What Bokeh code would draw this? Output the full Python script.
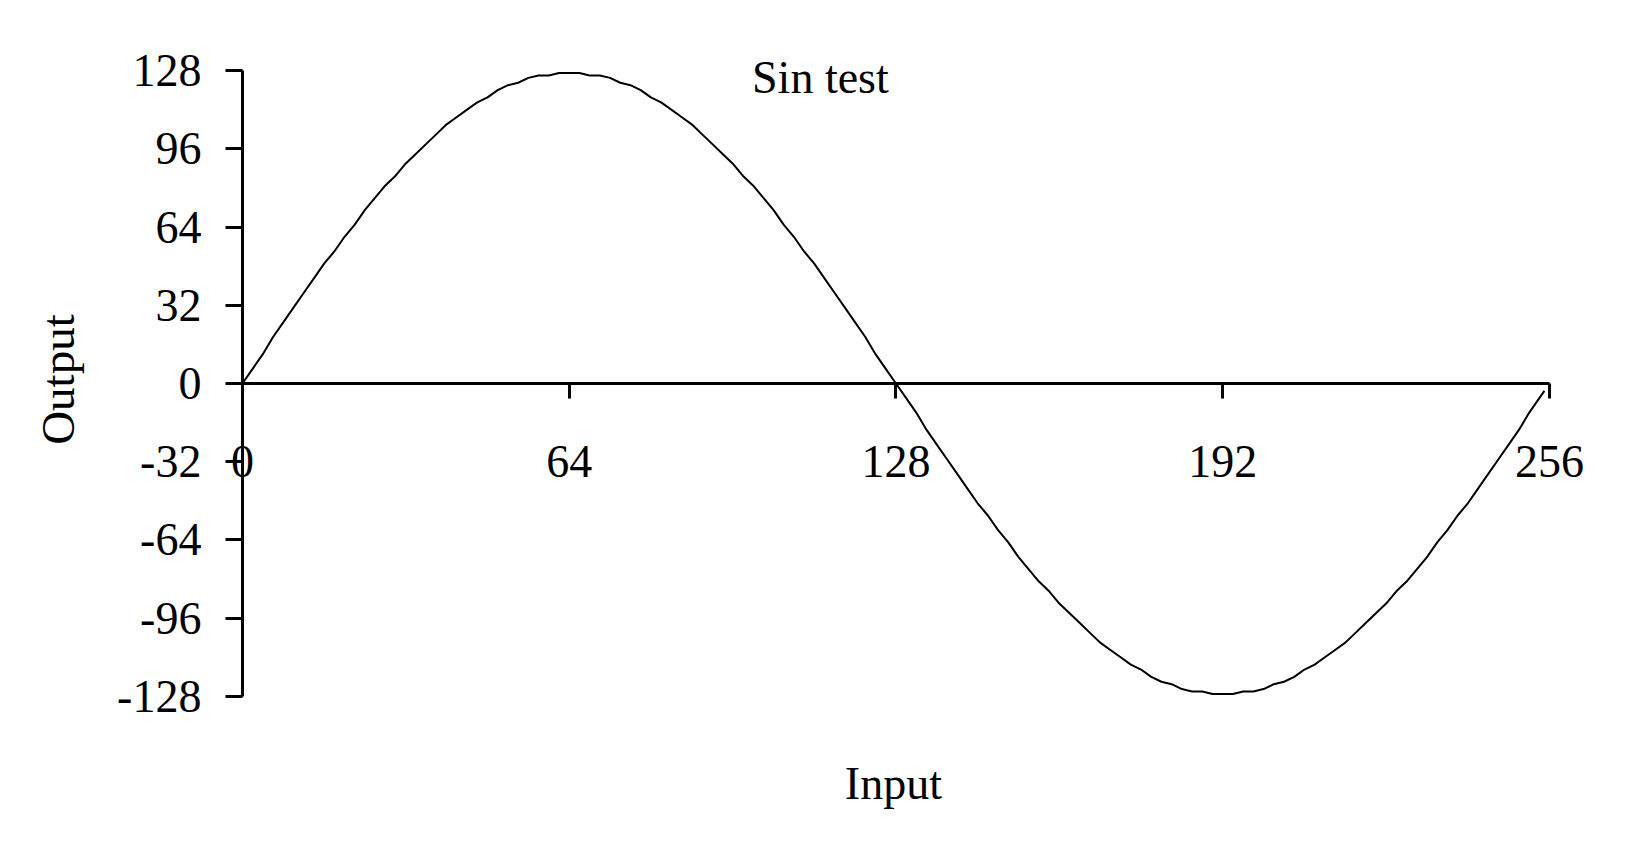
import math
from bokeh.plotting import figure
from bokeh.models import LinearAxis, FixedTicker, Range1d, Label, ColumnDataSource
from bokeh.embed import file_html
from bokeh.resources import INLINE

# ---- data ----
inputs = list(range(0, 256, 2)) + [255]
outputs = [0, 6, 12, 19, 25, 31, 37, 43, 49, 54, 60, 65, 71, 76, 81, 85, 90, 94, 98, 102,
           106, 109, 112, 115, 117, 120, 122, 123, 125, 126, 126, 127, 127,
           127, 126, 126, 125, 123, 122, 120, 117, 115, 112, 109, 106, 102, 98, 94, 90,
           85, 81, 76, 71, 65, 60, 54, 49, 43, 37, 31, 25, 19, 12, 6, 0,
           -6, -12, -19, -25, -31, -37, -43, -49, -54, -60, -65, -71, -76, -81, -85, -90,
           -94, -98, -102, -106, -109, -112, -115, -117, -120, -122, -123, -125, -126, -126, -127, -127,
           -127, -126, -126, -125, -123, -122, -120, -117, -115, -112, -109, -106, -102, -98, -94, -90,
           -85, -81, -76, -71, -65, -60, -54, -49, -43, -37, -31, -25, -19, -12, -6,
           -3]
x_ticks = [0, 64, 128, 192, 256]
y_ticks = [-128, -96, -64, -32, 0, 32, 64, 96, 128]
title_text = "Sin test"
x_label = "Input"
y_label = "Output"

FONT = "Liberation Serif"
FS = "46px"

p = figure(width=1625, height=831, output_backend="svg", toolbar_location=None,
           x_range=Range1d(-46.4, 269.9), y_range=Range1d(-181.2, 154.6),
           x_axis_type=None, y_axis_type=None,
           min_border_left=5, min_border_right=5, min_border_top=5, min_border_bottom=5)
p.outline_line_color = None
p.background_fill_color = "white"
p.border_fill_color = "white"
p.xgrid.visible = False
p.ygrid.visible = False

src = ColumnDataSource(data=dict(x=inputs, y=outputs))
p.line("x", "y", source=src, line_color="black", line_width=2)

# y axis at x = 0
yax = LinearAxis(ticker=FixedTicker(ticks=y_ticks), fixed_location=0, bounds=(-128, 128))
yax.major_label_overrides = {t: str(t) for t in y_ticks}
yax.axis_line_width = 3
yax.axis_line_color = "black"
yax.major_tick_line_width = 3
yax.major_tick_line_color = "black"
yax.major_tick_out = 17
yax.major_tick_in = 0
yax.minor_tick_line_color = None
yax.major_label_standoff = 24
yax.major_label_text_font = FONT
yax.major_label_text_font_size = FS
yax.major_label_text_color = "black"
p.add_layout(yax, "left")

# x axis crossing at y = 0
xax = LinearAxis(ticker=FixedTicker(ticks=x_ticks), fixed_location=0, bounds=(0, 256))
xax.major_label_overrides = {t: str(t) for t in x_ticks}
xax.axis_line_width = 3
xax.axis_line_color = "black"
xax.major_tick_line_width = 3
xax.major_tick_line_color = "black"
xax.major_tick_out = 15
xax.major_tick_in = 0
xax.minor_tick_line_color = None
xax.major_label_standoff = 48
xax.major_label_text_font = FONT
xax.major_label_text_font_size = FS
xax.major_label_text_color = "black"
p.add_layout(xax, "below")

title = Label(x=113.2, y=125.3, text=title_text, text_align="center",
              text_baseline="alphabetic", text_font=FONT, text_font_size=FS,
              text_color="black")
p.add_layout(title)

xl = Label(x=127.5, y=-163.8, text=x_label, text_align="center",
           text_baseline="alphabetic", text_font=FONT, text_font_size=FS,
           text_color="black")
p.add_layout(xl)

yl = Label(x=-36.2, y=1.6, text=y_label, angle=math.pi / 2, text_align="center",
           text_baseline="alphabetic", text_font=FONT, text_font_size="47px",
           text_color="black")
p.add_layout(yl)

open("out.html", "w").write(file_html(p, INLINE))
